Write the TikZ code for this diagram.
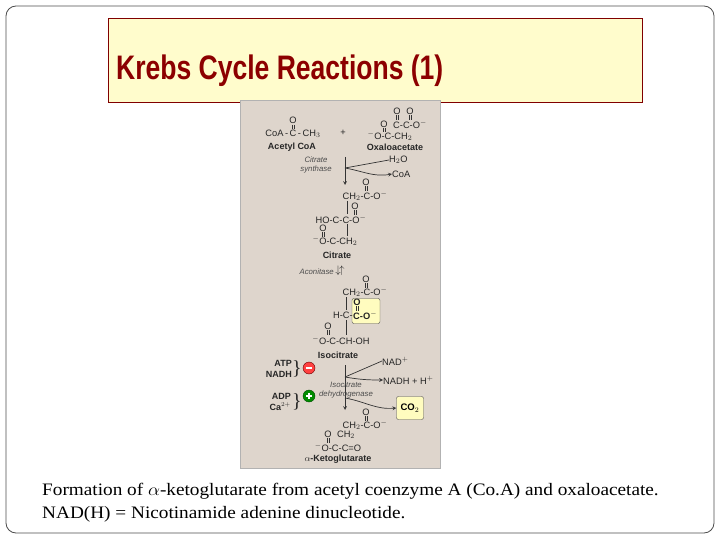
\documentclass[tikz,border=0pt]{standalone}
\usepackage{fontspec}
\setmainfont{Liberation Serif}
\setsansfont{Liberation Sans}
\begin{document}
\begin{tikzpicture}[x=1pt,y=-1pt,
  ch/.style={font=\sffamily\fontsize{9.3}{10}\selectfont,inner sep=0pt,text=black!85},
  lb/.style={ch,font=\sffamily\bfseries\fontsize{9}{10.5}\selectfont},
  en/.style={ch,font=\sffamily\itshape\fontsize{7.8}{8.5}\selectfont,text=black!70,align=center},
  pics/dbond/.style={code={\draw[black!80,line width=0.4pt] (-1,-2.2)--(-1,2.2) (1,-2.2)--(1,2.2);}},
  ln/.style={draw=black!80,line width=0.7pt},
  ar/.style={ln,-stealth}]
\useasboundingbox (0,0) rectangle (720,540);
\draw[black!70,rounded corners=10pt,line width=0.8pt] (6,6) rectangle (714,533);
\node[draw=red!50!black,fill=yellow!20,minimum width=534pt,minimum height=84pt,anchor=north west,inner sep=0pt] (title) at (108,18) {};
\node[anchor=west,text=red!55!black,font=\sffamily\bfseries\fontsize{34}{36}\selectfont,xscale=0.78,inner sep=0pt] (tt) at (116,71) {Krebs Cycle Reactions (1)};
\node[draw=black!30,fill={rgb,255:red,222;green,213;blue,204},minimum width=200pt,minimum height=368pt,anchor=north west,inner sep=0pt] (panel) at (240,100) {};
% acetyl CoA
\node[ch] (a1) at (293,120) {O};
\pic at (293,127) {dbond};
\node[ch] (a2) at (293,134) {CoA\,-\,C\,-\,CH$_3$};
\node[ch] (plus) at (343,133) {+};
\node[ch] (o1) at (397,111) {O};
\node[ch] (o1c) at (410,111) {O};
\pic at (397,117.5) {dbond};
\pic at (410,117.5) {dbond};
\node[ch] (o2a) at (384,124) {O};
\node[ch,anchor=west] (o2) at (393,124) {C-C-O$^-$};
\pic at (384,130) {dbond};
\node[ch] (o3) at (390,136) {$^-$O-C-CH$_2$};
\node[lb] (acl) at (292,147) {Acetyl CoA};
\node[lb] (oxl) at (395,147) {Oxaloacetate};
\node[en] (cs) at (316,165) {Citrate\\synthase};
\coordinate (v1) at (345,157); \coordinate (v2) at (345,185); \coordinate (vm) at (345,168);
\draw[ar] (v1) -- (v2);
\node[ch,anchor=west] (h2o) at (389,160) {H$_2$O};
\node[ch,anchor=west] (coa) at (392,174) {CoA};
\draw[ln] (vm) -- (h2o.west);
\draw[ar] (vm) to[out=-10,in=190] (coa.west);
% citrate
\node[ch] (c1) at (366,182) {O};
\pic at (366,188.5) {dbond};
\node[ch] (c2) at (365,196) {CH$_2$-C-O$^-$};
\node[ch] (c3) at (355,206) {O};
\pic at (355,212.5) {dbond};
\node[ch] (c4) at (341,219) {HO-C-C-O$^-$};
\node[ch] (c5) at (323,228) {O};
\pic at (323,234.5) {dbond};
\node[ch] (c6) at (335,241) {$^-$O-C-CH$_2$};
\coordinate (cl1) at (347,201); \coordinate (cl2) at (347,214);
\draw[ln,line width=0.4pt] (cl1) -- (cl2);
\coordinate (cl3) at (347,224); \coordinate (cl4) at (347,236);
\draw[ln,line width=0.4pt] (cl3) -- (cl4);
\node[lb] (citl) at (337,255) {Citrate};
\node[en,anchor=east] (acon) at (334,272) {Aconitase};
\node[ch,font=\bfseries\fontsize{11}{11}\selectfont] (aa) at (340,271) {$\downarrow\!\uparrow$};
% isocitrate
\node[ch] (i1) at (366,279) {O};
\pic at (366,285.5) {dbond};
\node[ch] (i2) at (365,292) {CH$_2$-C-O$^-$};
\node[draw=black!70,fill=yellow!25,rounded corners=2pt,minimum width=28pt,minimum height=25pt,inner sep=0pt] (box1) at (366,311) {};
\node[ch,font=\sffamily\bfseries\fontsize{9.3}{10}\selectfont] (i3) at (357,302) {O};
\pic at (357,308.5) {dbond};
\node[ch,anchor=east] (i4) at (353,315) {H-C-};
\node[ch,font=\sffamily\bfseries\fontsize{9.3}{10}\selectfont,anchor=west] (i4b) at (353,315) {C-O$^-$};
\node[ch] (i5) at (328,326) {O};
\pic at (328,332.5) {dbond};
\node[ch] (i6) at (341,340) {$^-$O-C-CH-OH};
\coordinate (il1) at (346,297); \coordinate (il2) at (346,310);
\draw[ln,line width=0.4pt] (il1) -- (il2);
\coordinate (il3) at (346,320); \coordinate (il4) at (346,335);
\draw[ln,line width=0.4pt] (il3) -- (il4);
\node[lb] (isol) at (338,355) {Isocitrate};
\node[lb,align=right,anchor=east] (atp) at (292,369) {ATP\\NADH};
\node[lb,align=right,anchor=east] (adp) at (291,402) {ADP\\Ca$^{2+}$};
\node[ch,font=\fontsize{20}{20}\selectfont] (br1) at (297,369) {\}};
\node[ch,font=\fontsize{20}{20}\selectfont] (br2) at (297,402) {\}};
\node[circle,fill=red!75,draw=red!40!black,minimum size=12pt,inner sep=0pt] (minus) at (309,368) {};
\draw[white,line width=1.5pt] ([xshift=-3pt]minus.center) -- ([xshift=3pt]minus.center);
\node[circle,fill=green!55!black,draw=green!30!black,minimum size=12pt,inner sep=0pt] (plusc) at (309,396) {};
\draw[white,line width=1.5pt] ([xshift=-3pt]plusc.center) -- ([xshift=3pt]plusc.center) ([yshift=-3pt]plusc.center) -- ([yshift=3pt]plusc.center);
\coordinate (w1) at (345,365); \coordinate (wm) at (345,377); \coordinate (w2) at (345,410); \coordinate (wm2) at (345,398);
\draw[ar] (w1) -- (w2);
\node[ch,anchor=west] (nad) at (382,361) {NAD$^+$};
\node[ch,anchor=west] (nadh) at (383,380) {NADH + H$^+$};
\draw[ln] (wm) -- (nad.west);
\draw[ar] (wm) to[out=-10,in=180] (nadh.west);
\node[en] (idh) at (346,390) {Isocitrate\\dehydrogenase};
\node[draw=black!70,fill=yellow!25,rounded corners=2pt,minimum width=27pt,minimum height=23pt,inner sep=0pt,font=\sffamily\bfseries\fontsize{9.5}{9.5}\selectfont] (co2) at (410,408) {CO$_2$};
\draw[ar] (wm2) to[out=-10,in=185] (co2.west);
% alpha-ketoglutarate
\node[ch] (k1) at (366,412) {O};
\pic at (366,418.5) {dbond};
\node[ch] (k2) at (365,425) {CH$_2$-C-O$^-$};
\node[ch] (k3a) at (328,434) {O};
\node[ch] (k3) at (346,435) {CH$_2$};
\pic at (328,440.5) {dbond};
\node[ch] (k4) at (338,447) {$^-$O-C-C=O};
\node[lb] (akl) at (338,459) {$\alpha$-Ketoglutarate};
% caption
\node[anchor=west,inner sep=0pt,font=\fontsize{17.5}{23}\selectfont,align=left,xscale=1.1] (cap) at (42,503) {Formation of $\alpha$-ketoglutarate from acetyl coenzyme A (Co.A) and oxaloacetate.\\NAD(H) = Nicotinamide adenine dinucleotide.};
\end{tikzpicture}
\end{document}
